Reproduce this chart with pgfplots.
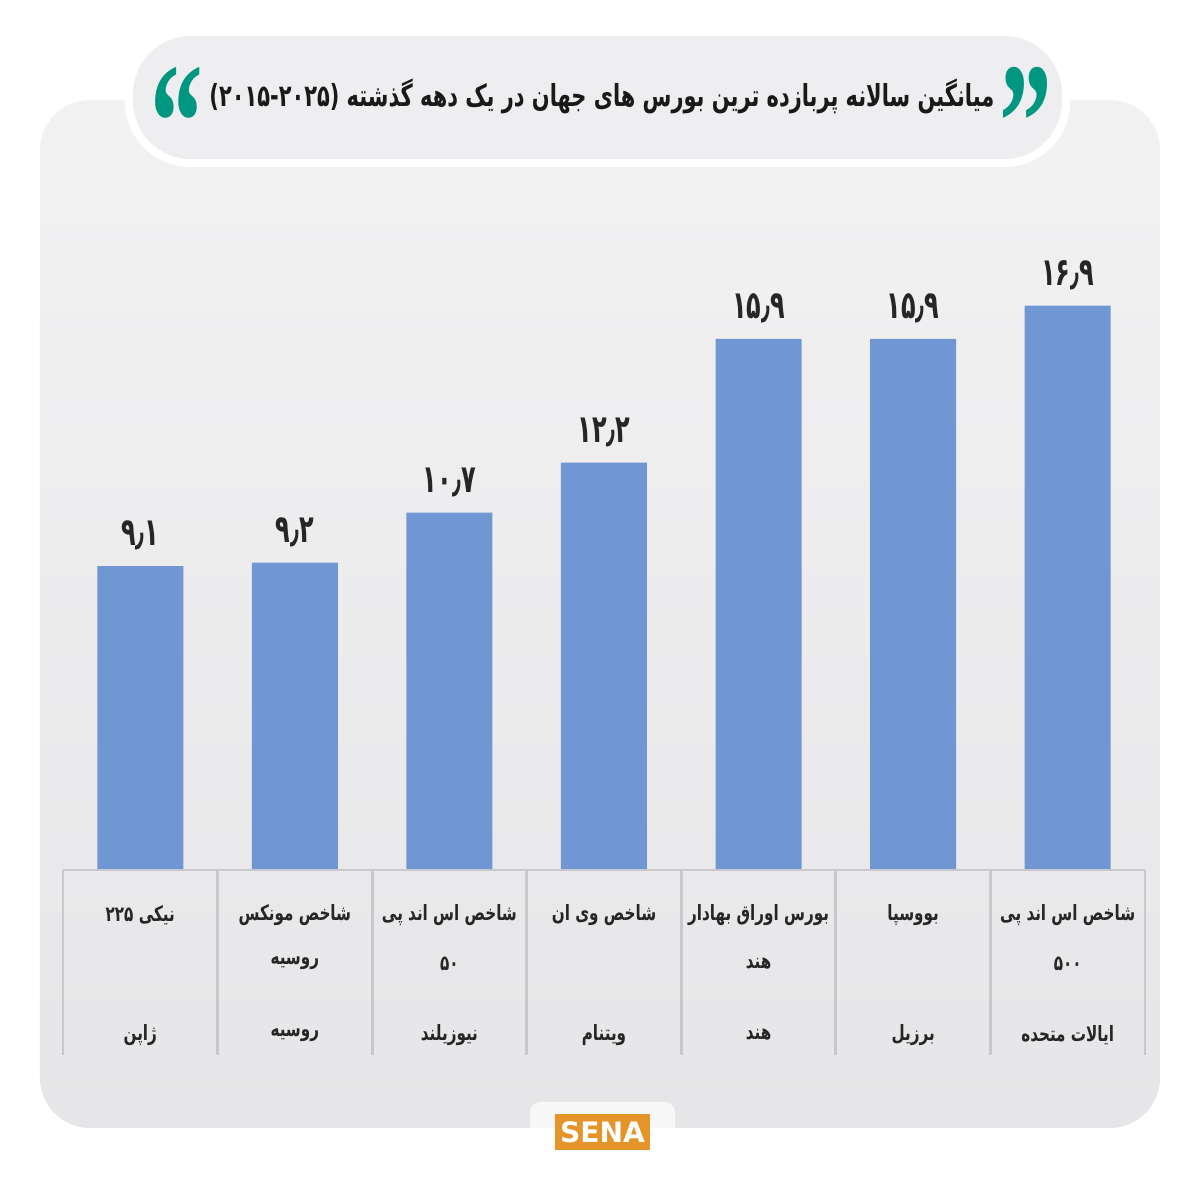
\documentclass[border=0pt]{standalone}
\usepackage{pgfplots}
\pgfplotsset{compat=1.18}
\usepackage{graphicx}
\usepackage{fontspec}
\setmainfont{DejaVu Sans}
\newfontfamily\fa[Script=Arabic]{DejaVu Sans}
\newfontfamily\qfont{Liberation Serif}
\TeXXeTstate=1
\definecolor{barblue}{RGB}{112,151,212}
\definecolor{paneltop}{RGB}{242,242,243}
\definecolor{panelbot}{RGB}{230,230,232}
\definecolor{pillgray}{RGB}{238,238,240}
\definecolor{quoteteal}{RGB}{0,150,128}
\definecolor{senaorange}{RGB}{228,148,40}
\definecolor{gridgray}{RGB}{200,200,204}
% narrow bold label text, one line
\newcommand{\lab}[1]{\scalebox{0.72}[1]{\fa\bfseries\fontsize{6}{7}\selectfont\beginR #1\endR}}
\newcommand{\val}[1]{\scalebox{0.62}[1]{#1}}

\begin{document}
\begin{tikzpicture}[x=1cm,y=1cm]
\path[use as bounding box] (0,0) rectangle (12,12);
\fill[white] (0,0) rectangle (12,12);
% panel
\shade[top color=paneltop, bottom color=panelbot, rounded corners=0.5cm] (0.4,0.72) rectangle (11.6,11.0);
% title pill
\fill[white, rounded corners=0.65cm] (1.25,10.33) rectangle (10.7,11.72);
\fill[pillgray, rounded corners=0.58cm] (1.33,10.41) rectangle (10.62,11.64);
\node[text=black!90] at (6.02,11.04)
  {\scalebox{1}[1.45]{\resizebox{7.85cm}{!}{\fa\bfseries\beginR میانگین سالانه پربازده ترین بورس های جهان در یک دهه گذشته \beginL(۲۰۱۵-۲۰۲۵)\endL\endR}}};
\node[text=quoteteal, anchor=base, inner sep=0pt] at (1.77,10.2)
  {\scalebox{1}[1.6]{\qfont\bfseries\fontsize{30}{30}\selectfont “}};
\node[text=quoteteal, anchor=base, inner sep=0pt] at (10.26,10.2)
  {\scalebox{1}[1.6]{\qfont\bfseries\fontsize{30}{30}\selectfont ”}};

\begin{axis}[
    at={(0.63cm,3.30cm)}, anchor=south west,
    scale only axis, width=10.82cm, height=6.68cm,
    xmin=-0.5, xmax=6.5, ymin=0, ymax=20,
    hide axis, clip=false,
    ybar, bar width=0.86cm,
    point meta=explicit symbolic,
    nodes near coords={\val{\pgfplotspointmeta}},
    nodes near coords style={font=\fa\bfseries\fontsize{11}{13}\selectfont, text=black!85, yshift=1pt},
]
\addplot[fill=barblue, draw=none] coordinates {
    (0,9.1) [۹٫۱]
    (1,9.2) [۹٫۲]
    (2,10.7) [۱۰٫۷]
    (3,12.2) [۱۲٫۲]
    (4,15.9) [۱۵٫۹]
    (5,15.9) [۱۵٫۹]
    (6,16.9) [۱۶٫۹]
};

% table under the bars
\draw[gridgray, line width=0.8pt] (axis cs:-0.5,0) -- (axis cs:6.5,0);
\pgfplotsinvokeforeach{-0.5,0.5,1.5,2.5,3.5,4.5,5.5,6.5}{
    \draw[gridgray, line width=0.8pt] (axis cs:#1,0) -- (axis cs:#1,-5.54);
}
\node[text=black!85] at (axis cs:0,-1.35) {\lab{نیکی \beginL ۲۲۵\endL}};
\node[text=black!85] at (axis cs:1,-1.35) {\lab{شاخص مونکس}};
\node[text=black!85] at (axis cs:1,-2.8) {\lab{روسیه}};
\node[text=black!85] at (axis cs:2,-1.35) {\lab{شاخص اس اند پی}};
\node[text=black!85] at (axis cs:2,-2.8) {\lab{۵۰}};
\node[text=black!85] at (axis cs:3,-1.35) {\lab{شاخص وی ان}};
\node[text=black!85] at (axis cs:4,-1.35) {\lab{بورس اوراق بهادار}};
\node[text=black!85] at (axis cs:4,-2.8) {\lab{هند}};
\node[text=black!85] at (axis cs:5,-1.35) {\lab{بووسپا}};
\node[text=black!85] at (axis cs:6,-1.35) {\lab{شاخص اس اند پی}};
\node[text=black!85] at (axis cs:6,-2.8) {\lab{۵۰۰}};
\node[text=black!85] at (axis cs:0,-4.94) {\lab{ژاپن}};
\node[text=black!85] at (axis cs:1,-4.94) {\lab{روسیه}};
\node[text=black!85] at (axis cs:2,-4.94) {\lab{نیوزیلند}};
\node[text=black!85] at (axis cs:3,-4.94) {\lab{ویتنام}};
\node[text=black!85] at (axis cs:4,-4.94) {\lab{هند}};
\node[text=black!85] at (axis cs:5,-4.94) {\lab{برزیل}};
\node[text=black!85] at (axis cs:6,-4.94) {\lab{ایالات متحده}};
\end{axis}

% logo
\fill[white, opacity=0.7, rounded corners=0.1cm] (5.3,0.38) rectangle (6.75,0.98);
\fill[senaorange] (5.55,0.5) rectangle (6.5,0.86);
\node[text=white, font=\bfseries\fontsize{8}{9}\selectfont] at (6.025,0.68) {SENA};
\end{tikzpicture}
\end{document}
